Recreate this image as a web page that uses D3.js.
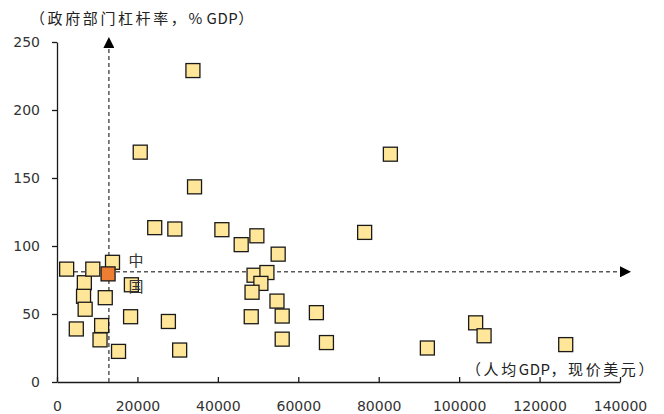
<!DOCTYPE html>
<html><head><meta charset="utf-8">
<script src="https://cdn.jsdelivr.net/npm/d3@7"></script>
<style>
body{margin:0;background:#fff;}
svg{display:block;}
</style></head>
<body>
<svg id="chart" width="664" height="414"></svg>
<script>
// Data: GDP per capita (current USD) vs government leverage (% GDP)
const gdpPerCapita = [2400,4800,6800,6600,7000,8900,10700,11100,12000,13800,15300,18300,18500,20700,24300,27700,29300,30500,33800,34200,41000,45800,49700,55000,49000,52200,50700,48500,54700,48300,56000,56000,64500,67000,76500,82900,92100,104100,106200,126500];
const govLeverage  = [83,39,73,63,53.5,83,31,41.5,62,88,22.5,48,71.5,169,113.5,44.5,112.5,23.5,229,143.5,112,101,107.5,94,78.5,80.5,72.5,66,59.5,48,48.5,31.5,51,29,110,167.5,25,43.5,34,27.5];
const china = {gdp: 12700, lev: 79.5, label: ["中","国"]};
const refLine = {gdp: 12900, lev: 81};
const xTicks = [0,20000,40000,60000,80000,100000,120000,140000];
const yTicks = [0,50,100,150,200,250];
const yTitleParts = [["（政府部门杠杆率，",true],["% GDP",false],["）",true]];
const xTitleParts = [["（人均",true],["GDP",false],["，现价美元）",true]];

const svg = d3.select("#chart");
const x = d3.scaleLinear().domain([0,140000]).range([57,620]);
const y = d3.scaleLinear().domain([0,250]).range([382,42]);

// Arrowhead
svg.append("defs").append("marker")
  .attr("id","arrow").attr("viewBox","0 0 10 10").attr("refX",0).attr("refY",5)
  .attr("markerUnits","userSpaceOnUse").attr("markerWidth",12).attr("markerHeight",11)
  .attr("orient","auto")
  .append("path").attr("d","M0,0 L10,5 L0,10 Z").attr("fill","#000");

// Axes
const yAxis = d3.axisLeft(y).tickValues(yTicks).tickSizeInner(5).tickSizeOuter(0).tickPadding(12).tickFormat(d3.format("d"));
const gy = svg.append("g").attr("transform",`translate(${x(0)},0)`).call(yAxis);
const xAxis = d3.axisBottom(x).tickValues(xTicks).tickSizeInner(-5).tickSizeOuter(0).tickPadding(19).tickFormat(d3.format("d"));
const gx = svg.append("g").attr("transform",`translate(0,${y(0)})`).call(xAxis);
[gx,gy].forEach(g=>{
  g.selectAll(".domain").attr("stroke","#1a1a1a").attr("stroke-width",1.3);
  g.selectAll(".tick line").attr("stroke","#1a1a1a").attr("stroke-width",1.3);
  g.selectAll(".tick text").attr("font-family","'DejaVu Sans', sans-serif").attr("font-size",14).attr("fill","#333");
});

// Reference dashed lines with arrows
svg.append("line")
  .attr("x1",x(refLine.gdp)).attr("x2",x(refLine.gdp))
  .attr("y1",y(0)).attr("y2",y(250)+6)
  .attr("stroke","#595959").attr("stroke-width",1.5).attr("stroke-dasharray","4,3")
  .attr("marker-end","url(#arrow)");
svg.append("line")
  .attr("x1",x(0)+3).attr("x2",x(140000))
  .attr("y1",y(refLine.lev)).attr("y2",y(refLine.lev))
  .attr("stroke","#595959").attr("stroke-width",1.5).attr("stroke-dasharray","4,3")
  .attr("marker-end","url(#arrow)");

// Points
const pts = gdpPerCapita.map((g,i)=>({g, v: govLeverage[i]}));
const S = 14;
svg.append("g").selectAll("rect").data(pts).join("rect")
  .attr("x",d=>x(d.g)-S/2).attr("y",d=>y(d.v)-S/2)
  .attr("width",S).attr("height",S)
  .attr("fill","#FFE699").attr("stroke","#1a1a1a").attr("stroke-width",1.3);

svg.append("rect")
  .attr("x",x(china.gdp)-S/2).attr("y",y(china.lev)-S/2)
  .attr("width",S).attr("height",S)
  .attr("fill","#ED7D31").attr("stroke","#1a1a1a").attr("stroke-width",1.3);

// China label (vertical)
svg.append("g").selectAll("text").data(china.label).join("text")
  .attr("x",x(china.gdp)+28).attr("y",(d,i)=>y(china.lev)-13+i*26)
  .attr("dy","0.35em").attr("text-anchor","middle")
  .attr("font-family","'Noto Sans CJK SC', sans-serif").attr("font-size",15).attr("fill","#333")
  .text(d=>d);

// Axis titles
function title(parts, tx, ty){
  const t = svg.append("text").attr("x",tx).attr("y",ty)
    .attr("font-family","'Noto Sans CJK SC', sans-serif").attr("font-size",15).attr("fill","#222");
  parts.forEach(([s,cjk])=>{
    t.append("tspan").attr("letter-spacing",cjk?2.6:0.5).text(s);
  });
}
title(yTitleParts, 30, 24);
title(xTitleParts, 466, 375);
</script>
</body></html>
